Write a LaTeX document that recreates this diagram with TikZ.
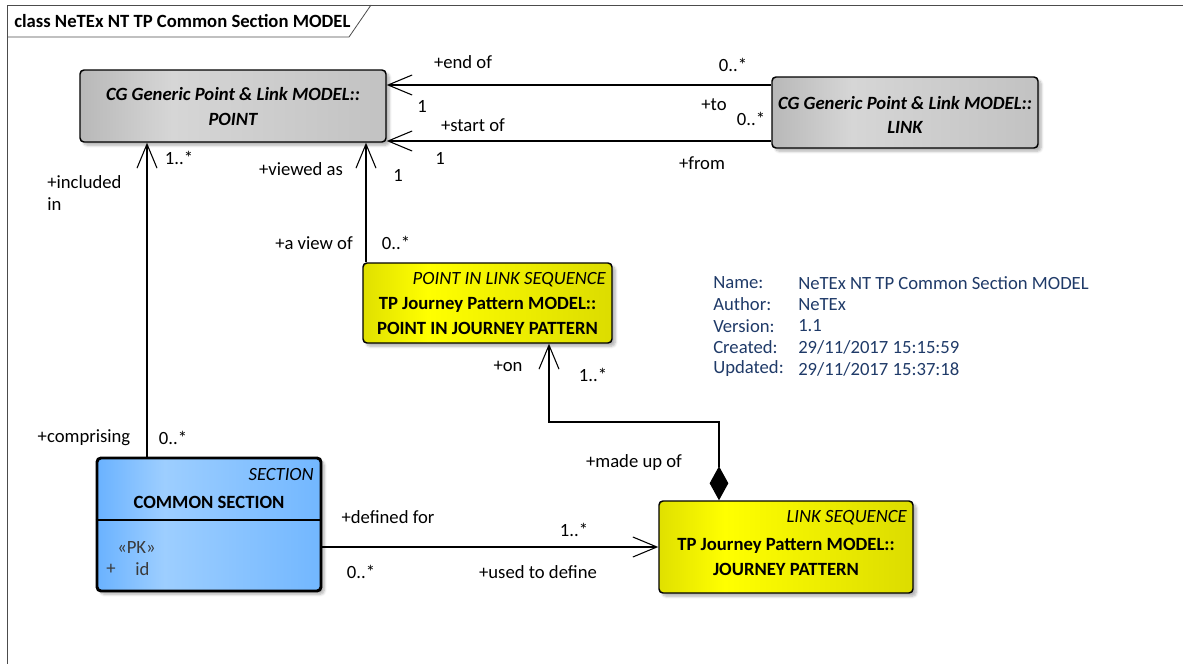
\documentclass[tikz,border=0pt]{standalone}
\usepackage{fontspec}
\setmainfont{Carlito}
\usetikzlibrary{arrows.meta,shadows.blur}

\definecolor{gA}{HTML}{B8B8B8}
\definecolor{gB}{HTML}{D6D6D6}
\definecolor{gC}{HTML}{C2C2C2}
\definecolor{bA}{HTML}{6AB2FF}
\definecolor{bB}{HTML}{9DCEFF}
\definecolor{bC}{HTML}{72B7FF}
\definecolor{yA}{HTML}{E0E000}
\definecolor{yB}{HTML}{FFFF00}
\definecolor{yC}{HTML}{DCDC00}
\definecolor{infoblue}{HTML}{1F3A68}
\definecolor{attrgray}{HTML}{3A3A3A}

% the visible part of a shading is its 25bp..75bp band
\pgfdeclarehorizontalshading{grayshade}{100bp}{color(0bp)=(gA); color(25bp)=(gA); color(40bp)=(gB); color(75bp)=(gC); color(100bp)=(gC)}
\pgfdeclarehorizontalshading{blueshade}{100bp}{color(0bp)=(bA); color(25bp)=(bA); color(40bp)=(bB); color(75bp)=(bC); color(100bp)=(bC)}
\pgfdeclarehorizontalshading{yellowshade}{100bp}{color(0bp)=(yA); color(25bp)=(yA); color(38bp)=(yB); color(75bp)=(yC); color(100bp)=(yC)}

\tikzset{
  x=0.75pt, y=-0.75pt,
  every node/.style={font=\fontsize{14}{16}\selectfont, inner sep=0pt},
  umlbox/.style={draw=black, line width=1.1pt, rounded corners=3pt,
    blur shadow={shadow xshift=2.5pt, shadow yshift=-2.5pt, shadow blur steps=6, shadow opacity=30}},
  graybox/.style={umlbox, shading=grayshade},
  yellowbox/.style={umlbox, shading=yellowshade},
  bluebox/.style={umlbox, line width=2.2pt, shading=blueshade},
  boxtitle/.style={font=\fontsize{14}{18.5}\selectfont\bfseries, align=center},
  stereo/.style={font=\fontsize{14}{16}\selectfont\itshape, anchor=east},
  lbl/.style={font=\fontsize{14}{16}\selectfont},
  assoc/.style={line width=0.8pt, -{Straight Barb[length=18pt,width=15pt,line width=0.8pt]}},
  compose/.style={line width=0.8pt, {Diamond[length=25.5pt,width=14pt]}-{Straight Barb[length=18pt,width=15pt,line width=0.8pt]}},
  info/.style={font=\fontsize{14}{16}\selectfont, text=infoblue, anchor=west},
}

\begin{document}
\begin{tikzpicture}
\useasboundingbox (0,0) rectangle (1183,664);

% diagram frame and its name tab
\draw[line width=0.6pt, black!70] (7,664) -- (7,5) -- (1183,5);
\draw[line width=0.6pt, black!70] (7,37) -- (349,37) -- (371,5);
\node[anchor=west, font=\fontsize{14}{16}\selectfont\bfseries] (title) at (14,21) {class NeTEx NT TP Common Section MODEL};

% classes
\node[graybox, minimum width=229.5pt, minimum height=54pt] (point) at (233,106) {};
\node[boxtitle, font=\fontsize{14}{18.5}\selectfont\bfseries\itshape] (pointtxt) at (233,106.5) {CG Generic Point \& Link MODEL::\\POINT};

\node[graybox, minimum width=199.5pt, minimum height=53.25pt] (link) at (905,112.5) {};
\node[boxtitle, font=\fontsize{14}{18.5}\selectfont\bfseries\itshape] (linktxt) at (905,115) {CG Generic Point \& Link MODEL::\\LINK};

\node[yellowbox, minimum width=186.75pt, minimum height=60pt] (pijp) at (487.5,303) {};
\node[stereo] (pijpst) at (606,280) {POINT IN LINK SEQUENCE};
\node[boxtitle] (pijptxt) at (487.5,316) {TP Journey Pattern MODEL::\\POINT IN JOURNEY PATTERN};

\node[yellowbox, minimum width=190.5pt, minimum height=69pt] (jp) at (786,547) {};
\node[stereo] (jpst) at (907,518) {LINK SEQUENCE};
\node[boxtitle] (jptxt) at (786,557) {TP Journey Pattern MODEL::\\JOURNEY PATTERN};

\node[bluebox, minimum width=168pt, minimum height=99.75pt] (cs) at (209,524.5) {};
\coordinate (ydiv) at (0,520);
\draw[line width=2.2pt] (cs.west |- ydiv) -- (cs.east |- ydiv);
\node[stereo] (csst) at (314,475) {SECTION};
\node[boxtitle] (cstxt) at (209,502) {COMMON SECTION};
\node[anchor=west, text=attrgray] (pk) at (117,548) {«PK»};
\node[text=attrgray] (plus) at (111,569) {+};
\node[anchor=west, text=attrgray] (idattr) at (135,569) {id};

% route coordinates
\coordinate (yend) at (0,85);
\coordinate (ystart) at (0,141);
\coordinate (xinc) at (147,0);
\coordinate (xview) at (366,0);
\coordinate (xcomp) at (719,0);
\coordinate (xon) at (549,0);
\coordinate (ybend) at (0,422);
\coordinate (ydef) at (0,547);

% connectors
\draw[assoc] (link.west |- yend) -- (point.east |- yend);
\draw[assoc] (link.west |- ystart) -- (point.east |- ystart);
\draw[assoc] (cs.north -| xinc) -- (point.south -| xinc);
\draw[assoc] (pijp.north -| xview) -- (point.south -| xview);
\draw[compose] (jp.north -| xcomp) -- (xcomp |- ybend) -- (xon |- ybend) -- (pijp.south -| xon);
\draw[assoc] (cs.east |- ydef) -- (jp.west |- ydef);

% role names and multiplicities
\node[lbl] (l1) at (463,62) {+end of};
\node[lbl] (l2) at (733,65) {0..*};
\node[lbl] (l3) at (422,106) {1};
\node[lbl] (l4) at (714,105) {+to};
\node[lbl] (l5) at (751,119) {0..*};
\node[lbl] (l6) at (473,125) {+start of};
\node[lbl] (l7) at (440,158) {1};
\node[lbl] (l8) at (702,163) {+from};
\node[lbl] (l9) at (398,175) {1};
\node[lbl] (l10) at (301,169) {+viewed as};
\node[lbl] (l11) at (179,158) {1..*};
\node[lbl, anchor=west] (l12) at (47,182) {+included};
\node[lbl, anchor=west] (l12b) at (47,204) {in};
\node[lbl] (l13) at (314,243) {+a view of};
\node[lbl] (l14) at (396,243) {0..*};
\node[lbl] (l15) at (508,366) {+on};
\node[lbl] (l16) at (593,375) {1..*};
\node[lbl] (l17) at (634,463) {+made up of};
\node[lbl] (l18) at (84,438) {+comprising};
\node[lbl] (l19) at (173,438) {0..*};
\node[lbl] (l20) at (388,517) {+defined for};
\node[lbl] (l21) at (574,530) {1..*};
\node[lbl] (l22) at (361,572) {0..*};
\node[lbl] (l23) at (538,572) {+used to define};

% model notes
\node[info] (n1) at (713,283) {Name:};
\node[info] (n2) at (713,304.5) {Author:};
\node[info] (n3) at (713,326) {Version:};
\node[info] (n4) at (713,347.5) {Created:};
\node[info] (n5) at (713,369) {Updated:};
\node[info] (v1) at (798,283) {NeTEx NT TP Common Section MODEL};
\node[info] (v2) at (798,304.5) {NeTEx};
\node[info] (v3) at (798,326) {1.1};
\node[info] (v4) at (798,347.5) {29/11/2017 15:15:59};
\node[info] (v5) at (798,369) {29/11/2017 15:37:18};
\end{tikzpicture}
\end{document}
